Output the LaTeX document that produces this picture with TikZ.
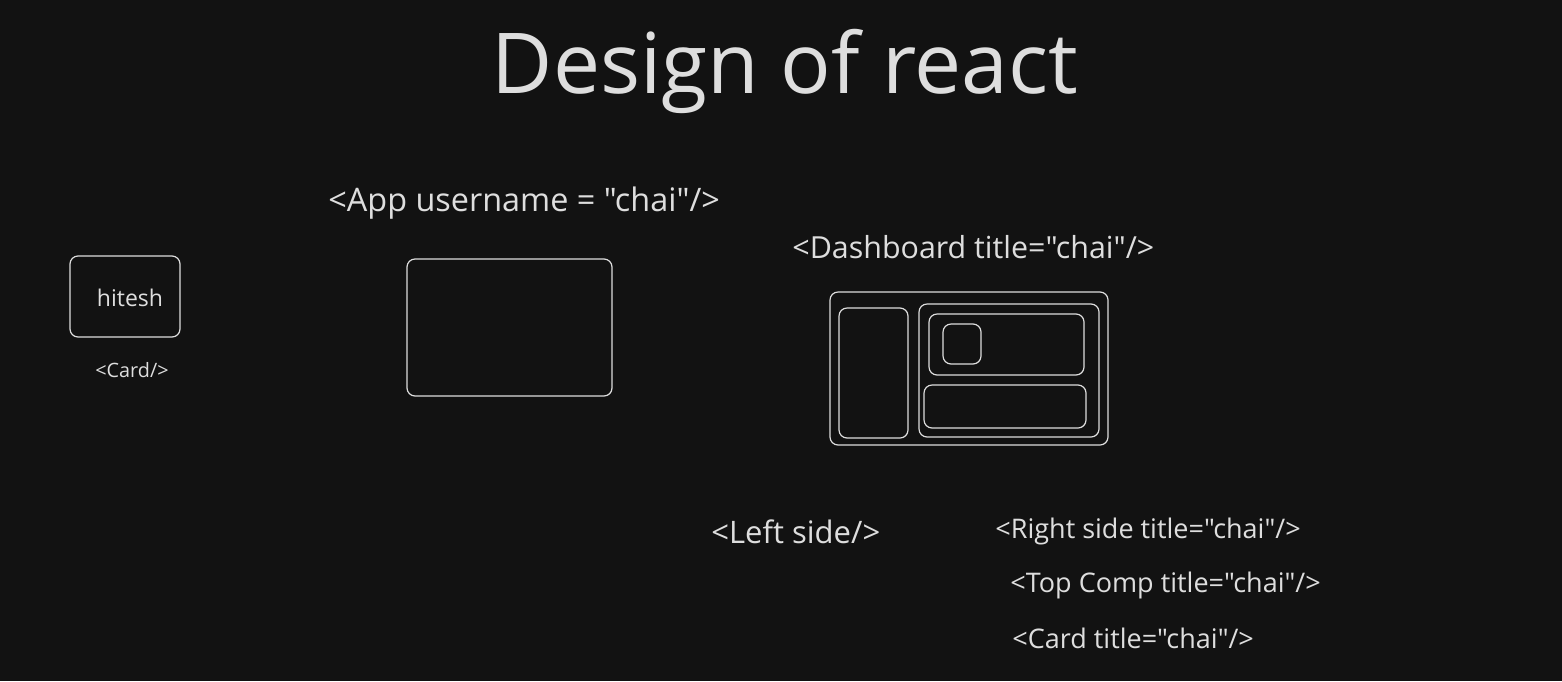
\documentclass[tikz,border=0pt]{standalone}
\usepackage{fontspec}
\setmainfont{Open Sans}[Ligatures=TeXOff]
\usetikzlibrary{positioning}
\definecolor{bg}{RGB}{18,18,18}
\definecolor{chalk}{RGB}{222,222,222}

\begin{document}
\begin{tikzpicture}[x=0.5pt, y=-0.5pt,
          box/.style={draw=chalk, line width=0.6pt, rounded corners=4pt, inner sep=0pt},
          lbl/.style={text=chalk, inner sep=0pt, anchor=west}]
        \fill[bg] (0,0) rectangle (1562,681);
        % heading
        \node[text=chalk, font=\fontsize{42}{46}\selectfont] (title) at (785,71) {Design of react};
        % card
        \node[box, minimum width=55pt, minimum height=40.5pt] (card) at (125,296.5) {};
        \node[text=chalk, font=\fontsize{11.5}{14}\selectfont] (hit) at ([xshift=2.5pt, yshift=-0.5pt]card.center) {hitesh};
        \node[text=chalk, font=\fontsize{9.9}{12}\selectfont] (cardtag) at (132,370) {<Card/>};
        % app
        \node[lbl, font=\fontsize{16.2}{19}\selectfont] (app) at (328,203) {<App username = "chai"/>};
        \node[box, minimum width=102.5pt, minimum height=68.5pt] (appbox) at (509.5,327.5) {};
        % dashboard
        \node[lbl, font=\fontsize{15.2}{18}\selectfont] (dash) at (792,247) {<Dashboard title="chai"/>};
        \node[box, minimum width=139pt, minimum height=76.5pt] (dbox) at (969,368.5) {};
        \node[box, minimum width=34.5pt, minimum height=65pt] (left) at (873.5,373) {};
        \node[box, minimum width=90pt, minimum height=66.5pt] (right) at (1009,370.5) {};
        \node[box, minimum width=77.5pt, minimum height=30.5pt] (top) at (1006.5,344.5) {};
        \node[box, minimum width=19pt, minimum height=20pt] (sq) at (962,344) {};
        \node[box, minimum width=81pt, minimum height=21.5pt] (bot) at (1005,406.5) {};
        % tags
        \node[lbl, font=\fontsize{15.5}{18}\selectfont] (ltag) at (711,532) {<Left side/>};
        \node[lbl, font=\fontsize{13.5}{16}\selectfont] (rtag) at (995,531) {<Right side title="chai"/>};
        \node[lbl, font=\fontsize{13.5}{16}\selectfont] (ttag) at (1010,585) {<Top Comp title="chai"/>};
        \node[lbl, font=\fontsize{13.5}{16}\selectfont] (ctag) at (1012,638) {<Card title="chai"/>};
\end{tikzpicture}
\end{document}
